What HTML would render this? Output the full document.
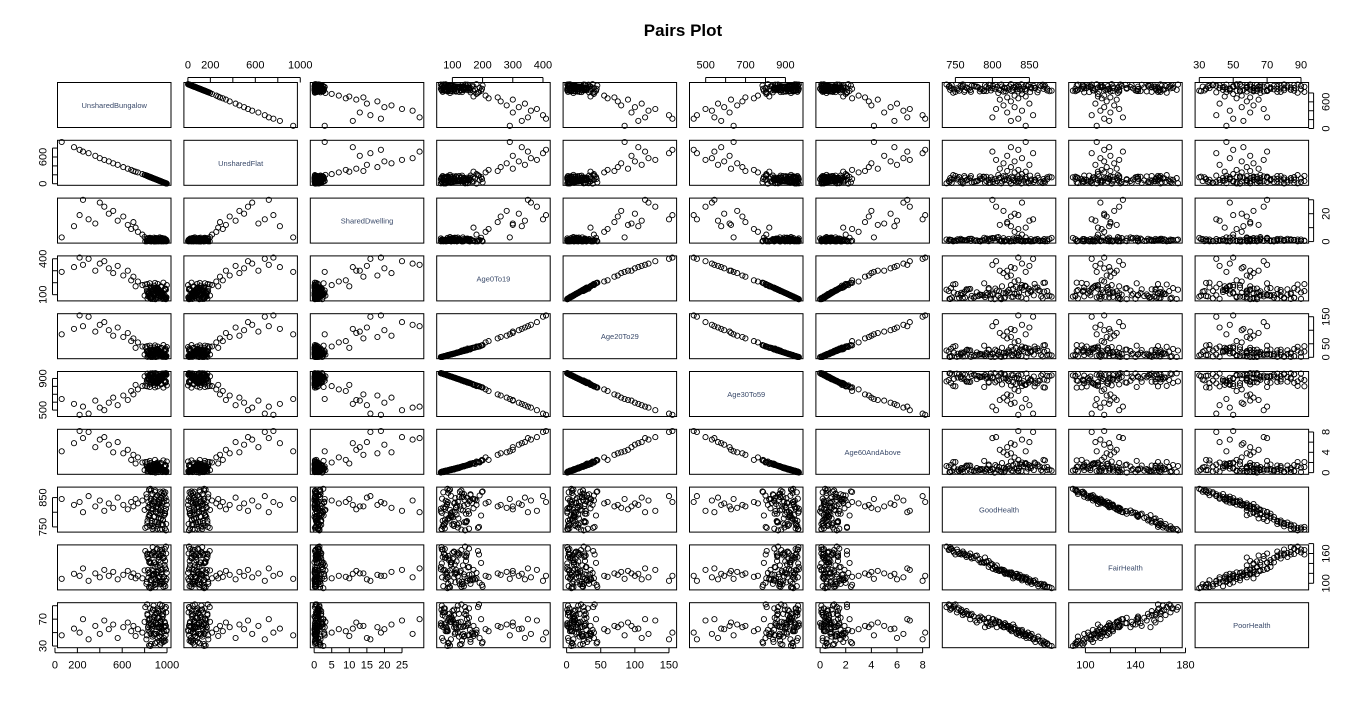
<!DOCTYPE html>
<html><head><meta charset="utf-8"><title>Pairs Plot</title>
<style>
html,body{margin:0;padding:0;background:#fff;}
svg{display:block;font-family:"Liberation Sans",Arial,sans-serif;}
</style></head>
<body>
<svg id="chart" width="1366" height="705" viewBox="0 0 1366 705" xmlns="http://www.w3.org/2000/svg">
<rect width="1366" height="705" fill="#fff"/>
<text x="683" y="36" text-anchor="middle" font-size="17" font-weight="bold">Pairs Plot</text>
<g id="plots"></g>
</svg>
<script>
const varNames = ["UnsharedBungalow","UnsharedFlat","SharedDwelling","Age0To19","Age20To29","Age30To59","Age60AndAbove","GoodHealth","FairHealth","PoorHealth"];
const unsharedBungalow = [990,985,980,975,970,965,960,958,955,950,948,945,940,938,935,930,925,920,915,910,905,900,895,890,885,880,875,870,865,860,855,850,845,840,835,830,825,820,990,982,972,962,952,942,932,922,912,902,892,882,872,862,852,842,
780,740,720,700,680,650,610,560,520,480,440,400,360,300,250,220,170,60,
998,993,987,978,968,957,946,936,926,916,906,896,886,876,866,856,846,836,826,816,806,800,995,983,973,963,953,943,933,923,913,903,893,883,873,863,853,843,833,823];
const unsharedFlat = [10,15,19,24,29,33,40,40,44,49,52,54,58,62,62,69,74,78,85,89,95,100,103,109,112,120,124,130,133,140,144,149,155,158,165,168,174,180,10,17,27,36,46,56,67,77,87,98,108,117,127,137,145,157,
215,253,270,286,311,338,372,425,458,500,535,572,627,684,720,761,819,937,
2,6,12,20,32,42,53,61,74,83,93,102,114,122,133,144,151,163,174,182,194,197,4,16,27,35,46,57,65,77,87,95,106,117,125,136,147,155,166,176];
const sharedDwelling = [0.2,0.5,1,1.5,0.8,2,0.3,2.5,1.2,0.6,0.1,0.9,1.8,0.4,3,0.7,1.1,2.2,0.3,1.4,0.5,0.2,1.6,0.9,2.8,0.4,1.3,0.6,2,0.1,0.8,1.2,0.3,1.7,0.5,2.4,0.9,0.2,1.5,0.7,0.4,1,0.6,2.1,0.3,1.3,0.8,0.2,1.9,0.5,1.1,0.4,2.6,0.7,
5,7,10,14,9,12,18,15,22,20,25,28,13,16,30,19,11,3,
0.3,1.2,0.6,2.1,0.2,1.5,0.8,2.9,0.4,1.1,0.7,2.3,0.1,1.6,0.9,0.3,2.7,1.0,0.5,1.8,0.2,3.2,0.6,1.4,0.3,2.0,0.9,0.4,1.7,0.2,1.2,2.5,0.6,0.1,1.9,0.8,0.4,2.2,1.3,0.7];
const age0To19 = [62,70,75,80,85,90,95,100,105,110,115,120,125,130,135,140,145,150,155,160,68,78,88,98,108,118,128,138,148,158,65,72,82,92,102,112,122,132,142,152,66,76,86,96,106,116,126,136,146,156,64,74,84,94,
180,210,170,250,220,300,260,340,280,320,380,360,300,400,350,410,330,290,
180,72,150,95,200,65,170,118,88,190,140,62,175,105,82,130,195,112,68,160,185,92,78,145,132,100,165,86,122,70,155,108,198,96,138,76,168,114,84,188];
const age20To29 = [1,3,4,6,8,9,10,12,14,15,17,18,20,21,23,24,26,27,29,30,2,5,8,11,14,17,20,23,26,29,1,4,7,10,13,16,19,22,25,28,2,5,8,11,14,17,20,23,26,29,1,4,7,10,
40,55,35,70,60,90,75,110,80,100,130,120,95,150,115,155,105,85,
38,3,32,11,45,2,35,18,9,40,28,1,36,13,7,24,43,16,2,33,39,10,5,27,25,12,34,8,19,3,31,14,44,11,26,4,35,17,6,41];
const age30To59 = [967,957,951,944,937,931,925,918,911,905,898,892,885,879,872,866,859,853,846,840,960,947,934,921,908,895,882,869,856,843,964,954,941,928,915,902,889,876,863,850,962,949,936,923,910,897,884,871,858,845,965,952,939,926,
804,762,819,699,742,627,684,562,658,593,499,531,620,456,544,440,578,640,
812,955,848,924,785,963,825,894,933,800,862,967,819,912,941,876,792,902,960,837,806,928,947,858,873,918,831,936,889,957,844,908,788,923,866,950,827,899,940,801];
const age60AndAbove = [0.1,0.2,0.3,0.3,0.4,0.5,0.5,0.6,0.7,0.8,0.8,0.9,1.0,1.1,1.2,1.3,1.4,1.5,1.6,1.8,0.2,0.4,0.5,0.7,0.8,1.0,1.1,1.2,1.4,1.6,0.1,0.3,0.4,0.6,0.7,0.9,1.0,1.2,1.3,1.5,0.2,0.3,0.5,0.6,0.8,0.9,1.1,1.3,1.4,1.7,0.1,0.3,0.4,0.6,
2,3,1.8,3.5,2.5,4.5,3.8,6,4,5.5,7,6.5,5,8,6.8,8.2,5.8,4.2,
2.2,0.1,1.5,0.5,2.4,0.1,1.9,0.9,0.4,2.0,1.3,0.0,1.7,0.6,0.3,1.1,2.3,0.8,0.2,1.6,2.1,0.5,0.3,1.4,1.2,0.6,1.8,0.4,0.9,0.1,1.5,0.7,2.5,0.5,1.3,0.2,1.9,0.8,0.3,2.1];
const goodHealth = [812,868,745,790,835,772,856,801,760,848,823,779,870,741,806,842,765,828,795,858,752,817,874,786,833,748,809,862,770,840,798,755,826,877,783,815,762,851,738,804,846,775,866,792,830,758,820,853,768,837,743,811,880,788,
840,830,845,820,835,810,825,850,815,830,805,840,820,855,800,835,825,845,
825,760,849,797,871,742,813,836,781,857,766,803,844,753,828,874,789,818,771,861,747,808,839,795,864,757,832,777,852,816,744,800,869,784,822,763,845,792,835,750];
const fairHealth = [128,94,169,152,113,150,104,129,164,102,122,156,98,167,136,113,153,110,133,106,168,119,92,142,119,162,125,94,160,106,140,159,122,92,149,127,160,103,174,132,112,151,99,142,112,158,122,99,156,117,173,127,90,142,
110,115,110,120,113,125,117,108,123,115,127,112,120,105,130,115,119,109,
121,160,105,137,93,168,127,114,147,101,156,133,108,163,116,93,141,120,153,99,165,126,109,145,98,161,118,155,104,126,170,138,97,142,118,157,107,144,111,158];
const poorHealth = [60,38,86,58,52,78,40,70,76,50,55,65,32,92,58,45,82,62,72,36,80,64,34,72,48,90,66,44,70,54,62,86,52,31,68,58,78,46,88,64,42,74,35,66,58,84,58,48,76,46,84,62,30,70,
50,55,45,60,52,65,58,42,62,55,68,48,60,40,70,50,56,46,
54,80,46,66,36,90,60,50,72,42,78,64,48,84,56,33,70,62,76,40,88,66,52,60,38,82,50,68,44,58,86,62,34,74,60,80,48,64,54,92];
const series = [unsharedBungalow,unsharedFlat,sharedDwelling,age0To19,age20To29,age30To59,age60AndAbove,goodHealth,fairHealth,poorHealth];
const xTicks = [[0,200,400,600,800,1000],[0,200,400,600,800,1000],[0,5,10,15,20,25],[100,200,300,400],[0,50,100,150],[500,600,700,800,900],[0,2,4,6,8],[750,800,850],[100,120,140,160,180],[30,50,70,90]];
const xLabels = [["0","200","","600","","1000"],["0","200","","600","","1000"],["0","5","10","15","20","25"],["100","200","300","400"],["0","50","100","150"],["500","","700","","900"],["0","2","4","6","8"],["750","800","850"],["100","","140","","180"],["30","50","70","90"]];
const yTicks = [[0,200,400,600,800],[0,200,400,600,800],[0,10,20,30],[100,200,300,400],[0,50,100,150],[500,600,700,800,900],[0,2,4,6,8],[750,800,850],[100,120,140,160,180],[30,50,70,90]];
const yLabels = [["0","","","600",""],["0","","","600",""],["0","","20",""],["100","","","400"],["0","50","","150"],["500","","","","900"],["0","","4","","8"],["750","","850"],["100","","","160",""],["30","","70",""]];

const NS="http://www.w3.org/2000/svg";
const g=document.getElementById('plots');
const X0=57.5, PW=113.5, PX=126.4, Y0=82.5, PH=45, PY=57.8;
function mk(t,a){const e=document.createElementNS(NS,t);for(const k in a)e.setAttribute(k,a[k]);return e;}
const ext=series.map(s=>{const mn=Math.min(...s),mx=Math.max(...s),p=(mx-mn)*0.04;return [mn-p,mx+p];});
function xScale(v,c,val){const [a,b]=ext[v];return X0+c*PX+(val-a)/(b-a)*PW;}
function yScale(v,r,val){const [a,b]=ext[v];return Y0+r*PY+PH-(val-a)/(b-a)*PH;}
const N=series[0].length;
for(let r=0;r<10;r++){for(let c=0;c<10;c++){
  const px=X0+c*PX, py=Y0+r*PY;
  const box=mk('rect',{x:px,y:py,width:PW,height:PH,fill:'none',stroke:'#000','stroke-width':1});
  
  
  g.appendChild(box);
  if(r===c){
    const t=mk('text',{x:px+PW/2,y:py+PH/2+3,'text-anchor':'middle','font-size':7.5,fill:'#3a4a6a'});
    t.textContent=varNames[r];
    
    
    g.appendChild(t);
  } else {
    const xs=series[c], ys=series[r];
    for(let i=0;i<N;i++){
      const p=mk('circle',{cx:xScale(c,c,xs[i]).toFixed(1),cy:yScale(r,r,ys[i]).toFixed(1),r:2.6,fill:'none',stroke:'#000','stroke-width':0.9});
      
      
      g.appendChild(p);
    }
  }
}}
for(let c=0;c<10;c++){
  const top=(c%2===1);
  const py=top?Y0:Y0+9*PY+PH;
  const dir=top?-1:1;
  xTicks[c].forEach((tv,k)=>{
    const x=xScale(c,c,tv);
    g.appendChild(mk('line',{x1:x,x2:x,y1:py,y2:py+dir*5,stroke:'#000','stroke-width':1}));
    if(xLabels[c][k]){
      const t=mk('text',{x:x,y:top?py-14:py+21,'text-anchor':'middle','font-size':11});
      t.textContent=xLabels[c][k];
      
      
      g.appendChild(t);
    }
  });
  const a=xScale(c,c,xTicks[c][0]), b=xScale(c,c,xTicks[c][xTicks[c].length-1]);
  g.appendChild(mk('line',{x1:a,x2:b,y1:py+dir*5,y2:py+dir*5,stroke:'#000','stroke-width':1}));
}
for(let r=0;r<10;r++){
  const left=(r%2===1);
  const px=left?X0:X0+9*PX+PW;
  const dir=left?-1:1;
  yTicks[r].forEach((tv,k)=>{
    const y=yScale(r,r,tv);
    g.appendChild(mk('line',{x1:px,x2:px+dir*5,y1:y,y2:y,stroke:'#000','stroke-width':1}));
    if(yLabels[r][k]){
      const tx=left?px-11:px+21;
      const t=mk('text',{x:tx,y:y,'text-anchor':'middle','font-size':11,transform:`rotate(-90 ${tx} ${y})`});
      t.textContent=yLabels[r][k];
      
      
      g.appendChild(t);
    }
  });
  const a=yScale(r,r,yTicks[r][0]), b=yScale(r,r,yTicks[r][yTicks[r].length-1]);
  g.appendChild(mk('line',{x1:px+dir*5,x2:px+dir*5,y1:a,y2:b,stroke:'#000','stroke-width':1}));
}
</script>
</body></html>
